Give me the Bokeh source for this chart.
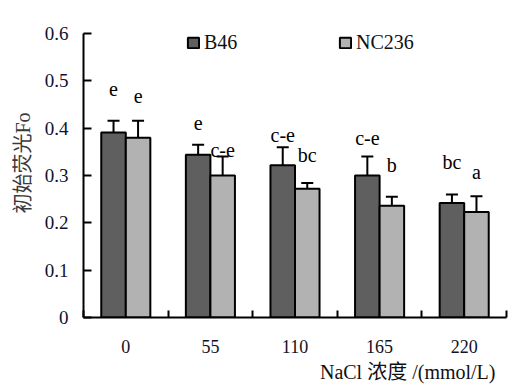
from bokeh.plotting import figure
from bokeh.models import (ColumnDataSource, Whisker, TeeHead, FixedTicker, Legend,
                          LegendItem, Range1d, Title)
from bokeh.embed import file_html
from bokeh.resources import INLINE
from bokeh.core.properties import value

# ---- data ----
categories = ["0", "55", "110", "165", "220"]
b46 = [0.391, 0.344, 0.322, 0.300, 0.242]
b46_err = [0.025, 0.021, 0.038, 0.040, 0.018]
nc236 = [0.380, 0.300, 0.272, 0.236, 0.223]
nc236_err = [0.036, 0.040, 0.012, 0.019, 0.033]
b46_letters = ["e", "e", "c-e", "c-e", "bc"]
b46_letter_y = [0.483, 0.411, 0.385, 0.380, 0.328]
nc236_letters = ["e", "c-e", "bc", "b", "a"]
nc236_letter_y = [0.468, 0.353, 0.344, 0.323, 0.308]
yticks = [0, 0.1, 0.2, 0.3, 0.4, 0.5, 0.6]
ytick_labels = ["0", "0.1", "0.2", "0.3", "0.4", "0.5", "0.6"]
series_names = ["B46", "NC236"]
x_title = "NaCl 浓度 /(mmol/L)"
y_title = "初始荧光Fo"

SERIF = "Liberation Serif, Noto Sans CJK SC"
DARK = "#5f5f5f"
LIGHT = "#b2b2b2"
BW = 0.29
OFF = 0.145

centers = [i + 0.5 for i in range(len(categories))]
src1 = ColumnDataSource(dict(
    x=[c - OFF for c in centers], top=b46,
    upper=[v + e for v, e in zip(b46, b46_err)],
    lower=[v - e for v, e in zip(b46, b46_err)],
    lab=b46_letters, ly=b46_letter_y))
src2 = ColumnDataSource(dict(
    x=[c + OFF for c in centers], top=nc236,
    upper=[v + e for v, e in zip(nc236, nc236_err)],
    lower=[v - e for v, e in zip(nc236, nc236_err)],
    lab=nc236_letters, ly=nc236_letter_y))

p = figure(width=522, height=385, output_backend="svg", toolbar_location=None,
           x_range=Range1d(0, len(categories)), y_range=Range1d(0, 0.653),
           min_border_left=83, min_border_right=16, min_border_top=8,
           min_border_bottom=65)
p.background_fill_color = "white"
p.border_fill_color = "white"
p.outline_line_color = None
p.grid.visible = False

r1 = p.vbar(x="x", top="top", width=BW, source=src1, fill_color=DARK,
            line_color="black", line_width=2)
r2 = p.vbar(x="x", top="top", width=BW, source=src2, fill_color=LIGHT,
            line_color="black", line_width=2)

for s in (src1, src2):
    w = Whisker(source=s, base="x", upper="upper", lower="lower",
                line_color="black", line_width=2,
                upper_head=TeeHead(size=12, line_color="black", line_width=2),
                lower_head=TeeHead(size=12, line_color="black", line_width=2))
    p.add_layout(w)
    p.text(x="x", y="ly", text="lab", source=s, text_align="center",
           text_baseline="alphabetic", text_font=value("Liberation Serif"),
           text_font_size="20px", text_color="black")

# axes
xa = p.xaxis[0]
xa.ticker = FixedTicker(ticks=centers, minor_ticks=list(range(len(categories) + 1)))
xa.major_label_overrides = {c: lab for c, lab in zip(centers, categories)}
xa.major_tick_in = 0
xa.major_tick_out = 0
xa.minor_tick_in = 7
xa.minor_tick_out = 0
xa.minor_tick_line_width = 2
xa.axis_line_width = 2
xa.major_label_standoff = 22
xa.major_label_text_font = SERIF
xa.major_label_text_font_size = "18px"
xa.major_label_text_color = "#111122"

ya = p.yaxis[0]
ya.ticker = FixedTicker(ticks=yticks, minor_ticks=[])
ya.bounds = (yticks[0], yticks[-1])
ya.major_label_overrides = {t: lab for t, lab in zip(yticks, ytick_labels)}
ya.major_tick_in = 8
ya.major_tick_out = 0
ya.major_tick_line_width = 2
ya.axis_line_width = 2
ya.major_label_standoff = 15
ya.major_label_text_font = SERIF
ya.major_label_text_font_size = "19px"
ya.major_label_text_color = "#111133"
ya.axis_label = y_title
ya.axis_label_standoff = 8
ya.axis_label_text_font = SERIF
ya.axis_label_text_font_size = "20px"
ya.axis_label_text_font_style = "normal"
ya.axis_label_text_color = "#3a3a3a"

# x title below, right-shifted as in the reference
p.add_layout(Title(text=x_title, align="right", offset=11, standoff=6,
                   text_font=SERIF, text_font_size="20px",
                   text_font_style="normal", text_color="#111111"), "below")

# legends
for r, name, loc in ((r1, series_names[0], (103, 262)), (r2, series_names[1], (255, 262))):
    lg = Legend(items=[LegendItem(label=name, renderers=[r])], location=loc,
                padding=0, margin=0, border_line_color=None,
                background_fill_alpha=0, glyph_width=14, glyph_height=13,
                label_standoff=4, label_height=25, label_text_font=SERIF,
                label_text_font_size="20px", label_text_color="#111111")
    p.add_layout(lg)

open("out.html", "w").write(file_html(p, INLINE))
